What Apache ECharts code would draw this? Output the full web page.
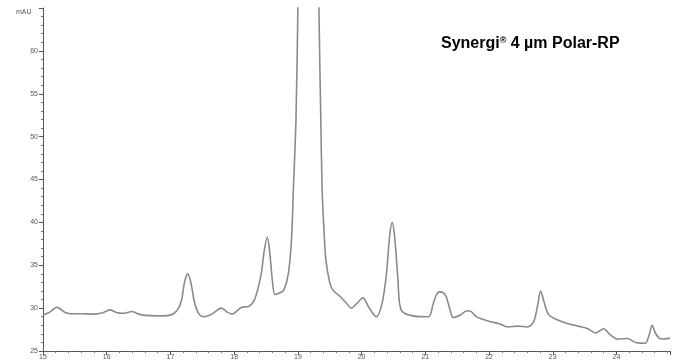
<!DOCTYPE html>
<html>
<head>
<meta charset="utf-8">
<script src="https://cdn.jsdelivr.net/npm/echarts@6/dist/echarts.min.js"></script>
<style>html,body{margin:0;padding:0;background:#fff}#c{width:673px;height:363px}</style>
</head>
<body>
<div id="c"></div>
<script>
var times = [15.0,15.1,15.17,15.22,15.27,15.35,15.45,15.6,15.8,15.95,16.05,16.15,16.25,16.4,16.5,16.6,16.8,16.98,17.1,17.17,17.22,17.27,17.32,17.38,17.45,17.53,17.65,17.8,17.9,17.97,18.05,18.12,18.23,18.32,18.42,18.47,18.52,18.56,18.6,18.64,18.72,18.78,18.85,18.9,18.93,18.97,19.0,19.05,19.17,19.28,19.33,19.36,19.38,19.41,19.44,19.5,19.55,19.67,19.76,19.84,19.92,20.02,20.12,20.23,20.32,20.39,20.44,20.48,20.52,20.57,20.62,20.8,21.05,21.12,21.17,21.22,21.28,21.33,21.38,21.44,21.55,21.65,21.72,21.8,21.9,22.02,22.15,22.3,22.45,22.6,22.7,22.76,22.81,22.86,22.9,22.94,23.05,23.23,23.4,23.55,23.67,23.8,23.9,24.02,24.17,24.3,24.45,24.51,24.56,24.61,24.67,24.72,24.84];
var mAU = [29.2,29.5,29.9,30.1,29.9,29.5,29.35,29.35,29.3,29.5,29.8,29.5,29.4,29.6,29.3,29.15,29.1,29.15,29.7,30.8,33.0,34.0,33.0,30.6,29.3,29.0,29.3,30.0,29.5,29.3,29.7,30.1,30.2,31.0,33.8,36.6,38.3,36.4,33.2,31.6,31.8,32.1,34.0,38.0,44.0,52.0,65.0,95.0,150.0,95.0,65.0,52.0,44.0,39.0,35.6,33.0,32.1,31.3,30.6,30.0,30.5,31.2,30.0,29.0,30.5,34.0,38.4,40.0,38.2,33.4,29.8,29.1,29.0,30.4,31.5,31.9,31.8,31.3,30.0,28.9,29.2,29.7,29.6,29.0,28.7,28.4,28.2,27.8,27.9,27.8,28.4,30.2,32.0,30.8,29.8,29.2,28.7,28.2,27.9,27.6,27.1,27.6,26.9,26.4,26.45,26.0,25.9,26.8,28.0,27.1,26.5,26.4,26.5];
var yTicks = [25,30,35,40,45,50,55,60];
var xTicks = [15,16,17,18,19,20,21,22,23,24];
var title = "Synergi";
var titleRest = " 4 µm Polar-RP";
var yUnit = "mAU";

var pts = times.map(function(t,i){return [t, mAU[i]];});
var chart = echarts.init(document.getElementById('c'));
var axisLabelStyle = {color:'#555', fontSize:7, fontFamily:'Liberation Sans'};
chart.setOption({
  animation:false,
  grid:{left:43,right:0,top:8,bottom:12,containLabel:false},
  xAxis:{type:'value',min:15,max:24.84,interval:1,
    axisLine:{onZero:false,lineStyle:{color:'#555',width:1}},
    axisTick:{show:true,length:4,lineStyle:{color:'#555'}},
    minorTick:{show:true,splitNumber:5,length:2,lineStyle:{color:'#777'}},
    splitLine:{show:false},
    axisLabel:Object.assign({margin:3,formatter:function(v){return xTicks.indexOf(v)>=0?String(v):'';}},axisLabelStyle)},
  yAxis:{type:'value',min:25,max:65,interval:5,
    axisLine:{show:true,lineStyle:{color:'#555',width:1}},
    axisTick:{show:true,length:4,lineStyle:{color:'#555'}},
    minorTick:{show:true,splitNumber:5,length:2,lineStyle:{color:'#777'}},
    splitLine:{show:false},
    axisLabel:Object.assign({margin:5,formatter:function(v){return yTicks.indexOf(v)>=0?String(v):'';}},axisLabelStyle)},
  graphic:[
    {type:'text',left:16,top:9,style:{text:yUnit,fill:'#555',font:'7px "Liberation Sans"'}},
    {type:'text',left:441,top:36,style:{
      text:'{a|'+title+'}{s|®}{a|'+titleRest+'}',
      rich:{a:{fontFamily:'"Liberation Sans"',fontWeight:'bold',fontSize:16,color:'#111'},
            s:{fontFamily:'"Liberation Sans"',fontWeight:'bold',fontSize:9,color:'#111',verticalAlign:'top',padding:[0,0,7,0]}}
    }}
  ],
  series:[{type:'line',data:pts,smooth:0.3,symbol:'none',clip:true,
    lineStyle:{color:'#8a8a8a',width:1.6}}]
});
</script>
</body>
</html>
